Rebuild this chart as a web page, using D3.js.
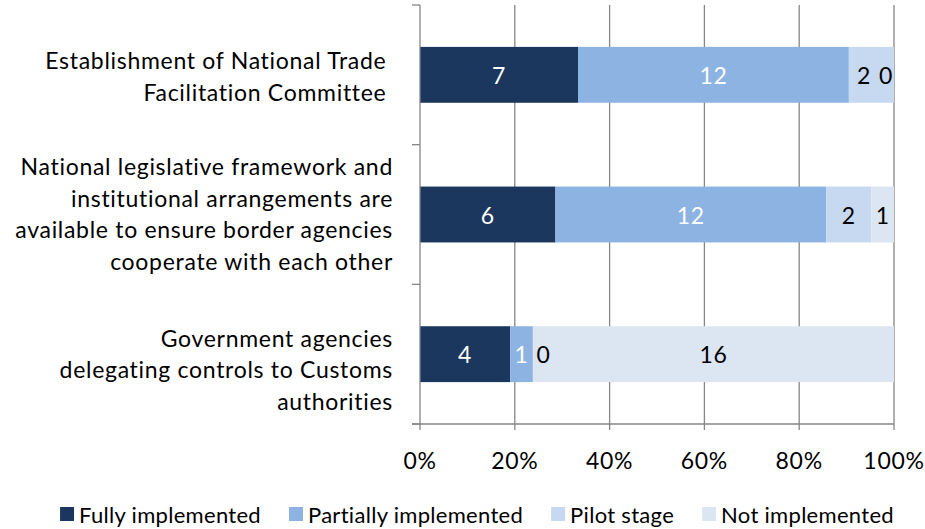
<!DOCTYPE html>
<html><head><meta charset="utf-8">
<script src="https://cdn.jsdelivr.net/npm/d3@7"></script>
<style>
body{margin:0;background:#fff;}
svg{display:block;font-family:Lato,"Noto Sans",sans-serif;}
text{letter-spacing:0.7px;}
text.leg{letter-spacing:0.3px;}
</style></head><body>
<svg id="c" width="925" height="529"></svg>
<script>
const categories = [
  ["Establishment of National Trade ", "Facilitation Committee "],
  ["National legislative framework and", "institutional arrangements are", "available to ensure border agencies", "cooperate with each other"],
  ["Government agencies", "delegating controls to Customs", "authorities"]
];
const seriesNames = ["Fully implemented", "Partially implemented", "Pilot stage", "Not implemented"];
const fully     = [7, 6, 4];
const partially = [12, 12, 1];
const pilot     = [2, 2, 0];
const notImpl   = [0, 1, 16];
const xTicks = [0, 0.2, 0.4, 0.6, 0.8, 1];

const colors = ["#1B375E", "#8DB3E2", "#C6D9F1", "#DCE6F2"];
const labelColors = ["#fff", "#fff", "#000", "#000"];
const FS = 23;

const svg = d3.select("#c");
const X0 = 420, X1 = 894, Y0 = 5, Y1 = 424;
const x = d3.scaleLinear().domain([0, 1]).range([X0, X1]);
const idx = categories.map((d, i) => i);
const y = d3.scaleBand().domain(idx).range([Y0, Y1]).paddingInner(0.6).paddingOuter(0.3);
const step = y.step();
const grid = "#868686";

// gridlines
svg.append("g").selectAll("line").data(xTicks.slice(1)).join("line")
  .attr("x1", d => x(d)).attr("x2", d => x(d)).attr("y1", Y0).attr("y2", Y1 + 6)
  .attr("stroke", grid).attr("stroke-width", 1.3);

// stack
const rows = idx.map(i => [fully[i], partially[i], pilot[i], notImpl[i]]);
const g = svg.append("g");
rows.forEach((vals, i) => {
  const tot = d3.sum(vals);
  let acc = 0;
  const segs = vals.map((v, k) => { const s = {k, v, a: acc / tot, b: (acc + v) / tot}; acc += v; return s; });
  g.selectAll(null).data(segs).join("rect")
    .attr("x", d => x(d.a)).attr("width", d => x(d.b) - x(d.a))
    .attr("y", y(i)).attr("height", y.bandwidth())
    .attr("fill", d => colors[d.k]);
  const pos = segs.map(d => (x(d.a) + x(d.b)) / 2);
  const minGap = 22;
  for (let k = 1; k < pos.length; k++) if (pos[k] - pos[k-1] < minGap) pos[k] = pos[k-1] + minGap;
  const lim = X1 - 8;
  for (let k = pos.length - 1; k >= 0; k--) {
    if (pos[k] > lim) pos[k] = lim;
    if (k > 0 && pos[k] - pos[k-1] < minGap) pos[k-1] = pos[k] - minGap;
  }
  g.selectAll(null).data(segs).join("text")
    .attr("x", (d, k) => pos[k]).attr("y", y(i) + y.bandwidth() / 2)
    .attr("text-anchor", "middle").attr("dominant-baseline", "central")
    .attr("font-size", FS).attr("fill", d => labelColors[d.k])
    .text(d => d.v);
});

// axes lines
svg.append("line").attr("x1", X0).attr("x2", X0).attr("y1", Y0).attr("y2", Y1 + 6).attr("stroke", grid).attr("stroke-width", 1.3);
svg.append("line").attr("x1", X0 - 8).attr("x2", X1).attr("y1", Y1).attr("y2", Y1).attr("stroke", grid).attr("stroke-width", 1.3);
const bounds = idx.map(i => y(i) - y.paddingOuter() * step).concat([Y1]);
svg.append("g").selectAll("line").data(bounds).join("line")
  .attr("x1", X0 - 8).attr("x2", X0).attr("y1", d => d).attr("y2", d => d)
  .attr("stroke", grid).attr("stroke-width", 1.3);

// x tick labels
svg.append("g").selectAll("text").data(xTicks).join("text")
  .attr("x", d => x(d)).attr("y", 460).attr("text-anchor", "middle").attr("dominant-baseline", "central")
  .attr("font-size", FS).attr("fill", "#000").text(d3.format(".0%"));

// category labels
const lineH = 31.5;
const shift = [1, -1, 15];
idx.forEach(i => {
  const lines = categories[i];
  const cy = y(i) + y.bandwidth() / 2 + shift[i];
  const t = svg.append("text").attr("text-anchor", "end").attr("font-size", FS).attr("fill", "#000")
    .style("white-space", "pre");
  lines.forEach((ln, j) => {
    t.append("tspan").attr("x", 393).attr("y", cy + (j - (lines.length - 1) / 2) * lineH)
      .attr("dominant-baseline", "central").text(ln);
  });
});

// legend
const leg = svg.append("g");
let lx = 0;
seriesNames.forEach((n, k) => {
  const it = leg.append("g").attr("transform", `translate(${lx},0)`);
  it.append("rect").attr("x", 0).attr("y", -7).attr("width", 14).attr("height", 14).attr("fill", colors[k]);
  const tx = it.append("text").attr("class", "leg").attr("x", 19).attr("y", 0).attr("dominant-baseline", "central")
    .attr("font-size", 22).attr("fill", "#000").text(n);
  const w = tx.node().getComputedTextLength();
  lx += 19 + w + 28;
});
const totalW = lx - 28;
leg.attr("transform", `translate(${477 - totalW / 2},514)`);
</script></body></html>
